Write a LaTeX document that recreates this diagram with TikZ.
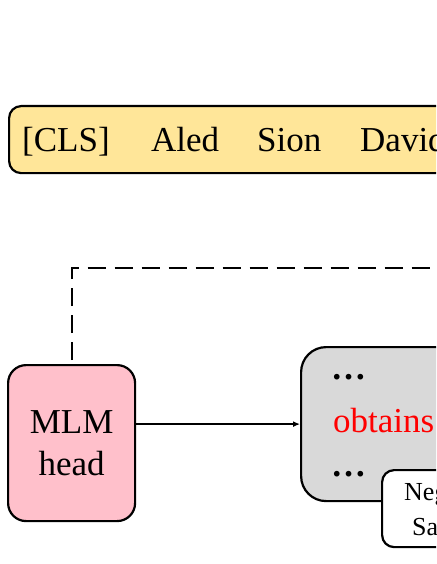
\documentclass[tikz,border=0pt]{standalone}
\usepackage{fontspec}
\setmainfont{Liberation Serif}
\usepackage{xcolor}
\usetikzlibrary{arrows.meta}

\definecolor{tokyellow}{HTML}{FFE699}
\definecolor{headpink}{HTML}{FFC0CB}
\definecolor{candgray}{HTML}{D9D9D9}

\tikzset{
  box/.style={draw, line width=2.2pt, anchor=north west, inner sep=0pt},
  big/.style={font=\fontsize{35}{42}\selectfont, inner sep=0pt},
  small/.style={font=\fontsize{26}{35}\selectfont},
}

\begin{document}
\begin{tikzpicture}[x=1pt, y=-1pt]
  \useasboundingbox (0,0) rectangle (436,564);
  \clip (0,0) rectangle (436,564);

  % input tokens
  \node[box, fill=tokyellow, rounded corners=12pt, minimum width=600pt, minimum height=67pt] (tokens) at (8,105) {};
  \node[big, anchor=base west] (cls) at (22,152) {[CLS]};
  \node[big, anchor=base west] (aled) at (151,152) {Aled};
  \node[big, anchor=base west] (sion) at (257,152) {Sion};
  \node[big, anchor=base west] (david) at (360,152) {David};

  % MLM head
  \node[box, fill=headpink, rounded corners=18pt, minimum width=127pt, minimum height=156pt, big, align=center] (mlm) at (7,364) {MLM\\head};

  % candidate words
  \node[box, fill=candgray, rounded corners=25pt, minimum width=300pt, minimum height=154pt] (cand) at (300,346) {};
  \node[big, anchor=base west] (dotsup) at (331,379) {\textbf{…}};
  \node[big, anchor=base west, text=red] (obtains) at (333,432) {obtains};
  \node[big, anchor=base west] (dotsdown) at (331,476) {\textbf{…}};

  % negative sample
  \node[box, fill=white, rounded corners=12pt, minimum width=138pt, minimum height=77pt, small, align=center] (neg) at (381,469) {\rule{0pt}{25pt}Negative\\Sample};

  % connectors
  \coordinate (dashend) at (460,268);
  \draw[line width=2.2pt, dash pattern=on 18pt off 9pt] ([yshift=4pt]mlm.north) |- (dashend);
  \draw[line width=1.3pt, -{Latex[length=7pt,width=6pt]}] (mlm.east |- cand.west) -- (cand.west);
\end{tikzpicture}
\end{document}
